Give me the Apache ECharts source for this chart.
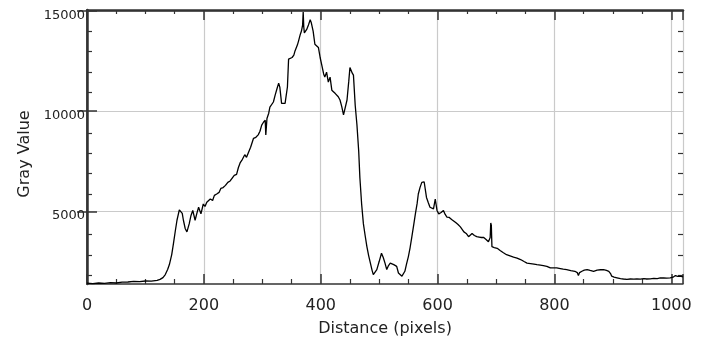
<!DOCTYPE html>
<html>
<head>
<meta charset="utf-8">
<script src="https://cdn.jsdelivr.net/npm/echarts@6/dist/echarts.min.js"></script>
<style>
html,body{margin:0;padding:0;background:#fff;}
#chart{width:701px;height:342px;}
</style>
</head>
<body>
<div id="chart"></div>
<script>
// Data
const distance = [0,10,20,30,40,50,60,70,80,90,100,110,120,125,130,134,138,141,145,148,151,154,158,161,163,165,168,171,175,178,181,185,188,191,195,199,202,205,208,211,215,218,222,226,229,233,237,241,245,248,252,256,259,262,266,270,273,276,280,285,289,293,296,299,302,305,306,308,311,313,316,319,322,325,328,330,333,336,339,341,343,345,348,351,354,356,360,362,365,367,369,370,371,372,376,379,382,384,387,390,393,396,399,402,405,407,410,413,416,419,422,425,428,430,433,436,439,442,445,448,450,452,454,456,459,462,465,467,470,473,476,479,482,485,488,490,493,496,500,504,507,510,513,516,519,522,525,528,530,533,536,539,542,544,547,550,553,556,559,562,565,567,570,573,575,577,579,581,584,587,590,593,596,599,602,606,610,613,616,620,624,627,631,635,639,642,645,649,653,656,659,663,667,671,675,679,683,687,690,691,692,693,697,702,707,712,718,724,730,736,742,748,753,759,765,770,776,781,787,793,798,804,810,815,821,828,835,839,841,843,847,851,856,861,867,873,879,884,889,893,896,898,902,907,913,918,924,930,936,941,947,953,958,964,970,976,981,987,992,998,1003,1007,1011,1015,1020];
const grayValue = [1420,1400,1430,1410,1450,1430,1470,1480,1510,1500,1530,1520,1560,1610,1700,1850,2100,2350,2850,3410,4000,4560,5080,5130,4900,4560,4150,3980,4390,4800,5050,4560,4900,5210,4880,5370,5250,5460,5400,5620,5550,5800,5870,5950,6150,6190,6300,6450,6520,6600,6800,6850,7180,7420,7600,7830,7700,7670,8200,8650,8700,8820,9000,9310,9450,9550,8820,9640,9900,10210,10300,10460,10800,11110,11400,11200,10390,10450,10390,10800,11210,12600,12650,12680,12800,13010,13300,13500,13830,14000,14300,14950,14200,13910,14080,14300,14570,14400,14000,13340,13300,13180,12680,12280,11860,11700,11950,11450,11700,11050,11100,10880,10900,10720,10560,10230,9820,9900,10560,11500,12180,12100,11900,11800,10300,9310,8000,6690,5370,4390,3800,3245,2800,2420,2050,1850,1900,2100,2500,2915,2700,2420,2100,2300,2420,2380,2345,2300,2260,1930,1850,1770,1850,2015,2400,2750,3200,3740,4300,4880,5400,5870,6200,6450,6520,6480,6440,5700,5450,5210,5300,5130,5620,5050,4880,4950,5050,4850,4720,4700,4600,4560,4450,4350,4230,4150,3980,3900,3740,3800,3900,3800,3740,3720,3700,3700,3600,3490,3700,4425,4300,3245,3200,3160,3050,2950,2840,2780,2720,2670,2600,2500,2420,2400,2370,2345,2320,2300,2260,2180,2180,2180,2150,2120,2100,2050,2015,1950,1800,1950,2015,2070,2100,2060,2015,2070,2090,2100,2060,2015,1900,1770,1720,1690,1650,1630,1610,1630,1620,1640,1620,1650,1630,1640,1660,1650,1680,1690,1670,1690,1720,1800,1760,1770,1740];
const xTickLabels = [0,200,400,600,800,1000];
const yTickLabels = [5000,10000,15000];
const yMinorTicks = [2000,3000,4000,6000,7000,8000,9000,11000,12000,13000,14000];
const xMin = 0, xMax = 1020, yMin = 1380, yMax = 15050;

const seriesData = distance.map((d, i) => [d, grayValue[i]]);
const chart = echarts.init(document.getElementById('chart'), null, {renderer: 'canvas'});
const font = 'DejaVu Sans';
const dark = '#333';
const gridBox = {left: 87, right: 18, top: 10, bottom: 54};

chart.setOption({
  animation: false,
  backgroundColor: '#fff',
  grid: [Object.assign({}, gridBox), Object.assign({}, gridBox)],
  xAxis: [
    {
      type: 'value', gridIndex: 0, position: 'bottom', min: xMin, max: xMax, interval: 200,
      name: 'Distance (pixels)', nameLocation: 'middle', nameGap: 37,
      nameTextStyle: {fontFamily: font, fontSize: 16, color: '#222'},
      axisLine: {show: true, lineStyle: {color: dark, width: 1.5}},
      axisTick: {show: true, inside: true, length: 10, lineStyle: {color: dark, width: 1.5}},
      minorTick: {show: true, splitNumber: 4, length: 5, lineStyle: {color: dark, width: 1.2}},
      axisLabel: {fontFamily: font, fontSize: 16, color: '#222', margin: 14,
        formatter: v => (xTickLabels.indexOf(v) >= 0 ? String(v) : '')},
      splitLine: {show: true, lineStyle: {color: '#cacaca', width: 1.2}}
    },
    {
      type: 'value', gridIndex: 0, position: 'top', min: xMin, max: xMax, interval: 200,
      axisLine: {show: true, lineStyle: {color: dark, width: 2.5}},
      axisTick: {show: true, inside: true, length: 10, lineStyle: {color: dark, width: 1.5}},
      minorTick: {show: true, splitNumber: 4, length: 4, lineStyle: {color: dark, width: 1.2}},
      axisLabel: {show: false},
      splitLine: {show: false}
    },
    {
      type: 'value', gridIndex: 1, position: 'bottom', min: xMin, max: xMax, show: false
    }
  ],
  yAxis: [
    {
      type: 'value', gridIndex: 0, position: 'left', min: yMin, max: yMax, splitNumber: 3,
      name: 'Gray Value', nameLocation: 'middle', nameGap: 41, nameRotate: 90,
      nameTextStyle: {fontFamily: font, fontSize: 16, color: '#222', padding: [0, 14, 0, 0]},
      axisLine: {show: true, lineStyle: {color: dark, width: 1.5}},
      axisTick: {show: true, inside: true, length: 10, customValues: yTickLabels, lineStyle: {color: dark, width: 1.5}},
      axisLabel: {fontFamily: font, fontSize: 13, color: '#222', margin: 2, customValues: yTickLabels,
        verticalAlign: 'top', lineHeight: 9, formatter: v => String(v)},
      splitLine: {show: true, lineStyle: {color: '#cacaca', width: 1.2}}
    },
    {
      type: 'value', gridIndex: 0, position: 'right', min: yMin, max: yMax, splitNumber: 3,
      axisLine: {show: true, lineStyle: {color: dark, width: 2.5}},
      axisTick: {show: true, inside: true, length: 10, customValues: yTickLabels, lineStyle: {color: dark, width: 1.5}},
      axisLabel: {show: false},
      splitLine: {show: false}
    },
    {
      type: 'value', gridIndex: 1, position: 'left', min: yMin, max: yMax,
      axisLine: {show: false},
      axisTick: {show: true, inside: true, length: 5, customValues: yMinorTicks, lineStyle: {color: dark, width: 1.2}},
      axisLabel: {show: false},
      splitLine: {show: false}
    },
    {
      type: 'value', gridIndex: 1, position: 'right', min: yMin, max: yMax,
      axisLine: {show: false},
      axisTick: {show: true, inside: true, length: 5, customValues: yMinorTicks, lineStyle: {color: dark, width: 1.2}},
      axisLabel: {show: false},
      splitLine: {show: false}
    }
  ],
  series: [{
    type: 'line', xAxisIndex: 0, yAxisIndex: 0,
    data: seriesData, showSymbol: false, symbol: 'none', clip: true,
    lineStyle: {color: '#000', width: 1.3},
    z: 5
  }]
});
</script>
</body>
</html>
